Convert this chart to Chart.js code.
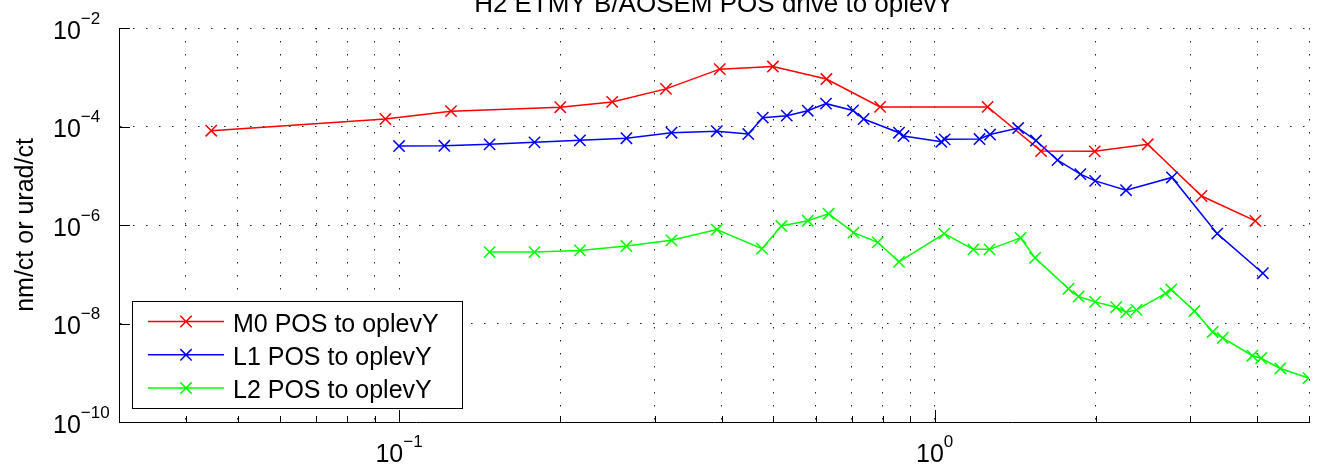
<!DOCTYPE html>
<html>
<head>
<meta charset="utf-8">
<script src="https://cdn.jsdelivr.net/npm/chart.js@4/dist/chart.umd.min.js"></script>
<style>
html, body { margin: 0; padding: 0; background: #fff; }
#wrap { width: 1324px; height: 476px; position: relative; }
</style>
</head>
<body>
<div id="wrap"><canvas id="tf"></canvas></div>
<script>
/* data */
const m0Freq = [0.0446, 0.0943, 0.125, 0.2, 0.25, 0.315, 0.397, 0.499, 0.628, 0.791, 1.256, 1.58, 1.99, 2.5, 3.15, 3.97];
const m0Mag = [8.2e-5, 1.42e-4, 2.05e-4, 2.46e-4, 3.16e-4, 5.8e-4, 1.46e-3, 1.65e-3, 9.2e-4, 2.5e-4, 2.5e-4, 3.17e-5, 3.13e-5, 4.36e-5, 3.88e-6, 1.21e-6];

const l1Freq = [0.1, 0.1215, 0.1476, 0.179, 0.2176, 0.2658, 0.3226, 0.392, 0.4488, 0.4776, 0.5296, 0.5795, 0.6268, 0.704, 0.737, 0.858, 0.875, 1.029, 1.044, 1.213, 1.269, 1.432, 1.546, 1.696, 1.871, 1.994, 2.277, 2.774, 3.37, 4.1];
const l1Mag = [4.01e-5, 4.06e-5, 4.34e-5, 4.77e-5, 5.23e-5, 5.78e-5, 7.48e-5, 8.02e-5, 7.03e-5, 1.51e-4, 1.66e-4, 2.09e-4, 2.91e-4, 2.12e-4, 1.42e-4, 7.48e-5, 6.41e-5, 4.9e-5, 5.48e-5, 5.56e-5, 6.87e-5, 9.32e-5, 5.19e-5, 2.08e-5, 1.08e-5, 7.87e-6, 5.09e-6, 9.23e-6, 6.68e-7, 1.05e-7];

const l2Freq = [0.1476, 0.179, 0.2176, 0.2658, 0.3226, 0.392, 0.476, 0.5176, 0.5795, 0.634, 0.7056, 0.783, 0.858, 1.042, 1.181, 1.266, 1.447, 1.54, 1.778, 1.857, 1.994, 2.183, 2.277, 2.382, 2.698, 2.765, 3.055, 3.305, 3.45, 3.92, 4.07, 4.42, 4.99];
const l2Mag = [2.82e-7, 2.82e-7, 3.05e-7, 3.74e-7, 4.88e-7, 8.05e-7, 3.31e-7, 9.54e-7, 1.22e-6, 1.69e-6, 7.0e-7, 4.45e-7, 1.78e-7, 6.68e-7, 3.2e-7, 3.2e-7, 5.49e-7, 2.15e-7, 5.07e-8, 3.53e-8, 2.75e-8, 2.14e-8, 1.69e-8, 1.89e-8, 4.1e-8, 4.9e-8, 1.79e-8, 6.74e-9, 5.09e-9, 2.22e-9, 1.97e-9, 1.22e-9, 7.8e-10];

const seriesNames = ["M0 POS to oplevY", "L1 POS to oplevY", "L2 POS to oplevY"];
const seriesColors = ["#ff0000", "#0000ff", "#00ff00"];

/* ticks */
const xGridTicks = [0.03, 0.04, 0.05, 0.06, 0.07, 0.08, 0.09, 0.1, 0.2, 0.3, 0.4, 0.5, 0.6, 0.7, 0.8, 0.9, 1, 2, 3, 4, 5];
const xLabelTicks = [0.1, 1];
const xLabelExp = ["\u22121", "0"];
const yGridTicks = [1e-10, 1e-8, 1e-6, 1e-4, 1e-2];
const yLabelExp = ["\u221210", "\u22128", "\u22126", "\u22124", "\u22122"];

const titleText = "H2 ETMY B/AOSEM POS drive to oplevY";
const yTitle = "nm/ct or urad/ct";

const FONT = '"Liberation Sans", Arial, Helvetica, sans-serif';

function pts(f, m){
  return f.map((v, i) => ({x: v, y: m[i]}));
}

function ds(i, f, m){
  return {
    label: seriesNames[i],
    data: pts(f, m),
    borderColor: seriesColors[i],
    backgroundColor: seriesColors[i],
    borderWidth: 1.5,
    pointStyle: "crossRot",
    pointRadius: 8,
    pointBorderWidth: 1.5,
    pointBorderColor: seriesColors[i],
    fill: false,
    tension: 0,
    order: 3 - i
  };
}

/* draws 10^exp */
function drawPow(ctx, exp, x, y, align){
  ctx.font = "25px " + FONT;
  let w1 = ctx.measureText("10").width;
  ctx.font = "17px " + FONT;
  let w2 = ctx.measureText(exp).width;
  let x0 = x;
  if(align === "center") x0 = x - (w1 + w2) / 2;
  ctx.textAlign = "left";
  ctx.textBaseline = "alphabetic";
  ctx.font = "25px " + FONT;
  ctx.fillText("10", x0, y);
  ctx.font = "17px " + FONT;
  ctx.fillText(exp, x0 + w1, y - 15);
}

const decor = {
  id: "decor",
  afterDraw(chart){
    const ctx = chart.ctx;
    const xs = chart.scales.x, ys = chart.scales.y, a = chart.chartArea;
    ctx.save();

    /* inward tick marks */
    ctx.strokeStyle = "#000";
    ctx.lineWidth = 1;
    ctx.beginPath();
    xGridTicks.forEach(v => {
      let px = Math.round(xs.getPixelForValue(v)) + 0.5;
      let len = xLabelTicks.includes(v) ? 12 : 6;
      ctx.moveTo(px, a.bottom);
      ctx.lineTo(px, a.bottom - len);
    });
    yGridTicks.forEach(v => {
      let py = Math.round(ys.getPixelForValue(v)) + 0.5;
      ctx.moveTo(a.left, py);
      ctx.lineTo(a.left + 11, py);
    });
    ctx.stroke();

    /* tick labels */
    ctx.fillStyle = "#000";
    xLabelTicks.forEach((v, i) => {
      drawPow(ctx, xLabelExp[i], xs.getPixelForValue(v), 462, "center");
    });
    yGridTicks.forEach((v, i) => {
      drawPow(ctx, yLabelExp[i], 53, ys.getPixelForValue(v) + 10.5, "left");
    });

    /* title */
    ctx.font = "26px " + FONT;
    ctx.textAlign = "center";
    ctx.textBaseline = "alphabetic";
    ctx.fillText(titleText, (a.left + a.right) / 2, 12);

    /* y axis title */
    ctx.save();
    ctx.translate(33, (a.top + a.bottom) / 2);
    ctx.rotate(-Math.PI / 2);
    ctx.font = "25px " + FONT;
    ctx.textAlign = "center";
    ctx.fillText(yTitle, 0, 0);
    ctx.restore();

    /* legend */
    let bx = 132.5, by = 301.5, bw = 330, bh = 107;
    ctx.fillStyle = "#fff";
    ctx.fillRect(bx, by, bw, bh);
    ctx.strokeStyle = "#000";
    ctx.lineWidth = 1;
    ctx.strokeRect(bx, by, bw, bh);
    chart.data.datasets.forEach((d, i) => {
      let ry = 321.5 + i * 33.3;
      ctx.strokeStyle = d.borderColor;
      ctx.lineWidth = 1.5;
      ctx.beginPath();
      ctx.moveTo(148, ry);
      ctx.lineTo(224, ry);
      let r = 5.7;
      ctx.moveTo(186 - r, ry - r); ctx.lineTo(186 + r, ry + r);
      ctx.moveTo(186 + r, ry - r); ctx.lineTo(186 - r, ry + r);
      ctx.stroke();
      ctx.fillStyle = "#000";
      ctx.font = "25px " + FONT;
      ctx.textAlign = "left";
      ctx.fillText(d.label, 233, ry + 10);
    });

    ctx.restore();
  }
};

const gridDash = [1.5, 11.5];

new Chart(document.getElementById("tf"), {
  type: "line",
  data: {
    datasets: [ds(0, m0Freq, m0Mag), ds(1, l1Freq, l1Mag), ds(2, l2Freq, l2Mag)]
  },
  options: {
    responsive: true,
    maintainAspectRatio: false,
    devicePixelRatio: 1,
    animation: false,
    layout: { padding: { left: 119, top: 28, right: 15, bottom: 54 } },
    plugins: {
      legend: { display: false },
      title: { display: false },
      tooltip: { enabled: false }
    },
    scales: {
      x: {
        type: "logarithmic",
        min: 0.03,
        max: 5,
        afterBuildTicks: s => { s.ticks = xGridTicks.map(v => ({value: v})); },
        ticks: { display: false },
        grid: { color: "#222", lineWidth: 1, drawTicks: false },
        border: { display: true, color: "#000", width: 1, dash: gridDash }
      },
      y: {
        type: "logarithmic",
        min: 1e-10,
        max: 1e-2,
        afterBuildTicks: s => { s.ticks = yGridTicks.map(v => ({value: v})); },
        ticks: { display: false },
        grid: { color: "#222", lineWidth: 1, drawTicks: false },
        border: { display: true, color: "#000", width: 1, dash: gridDash }
      }
    }
  },
  plugins: [decor]
});
</script>
</body>
</html>
